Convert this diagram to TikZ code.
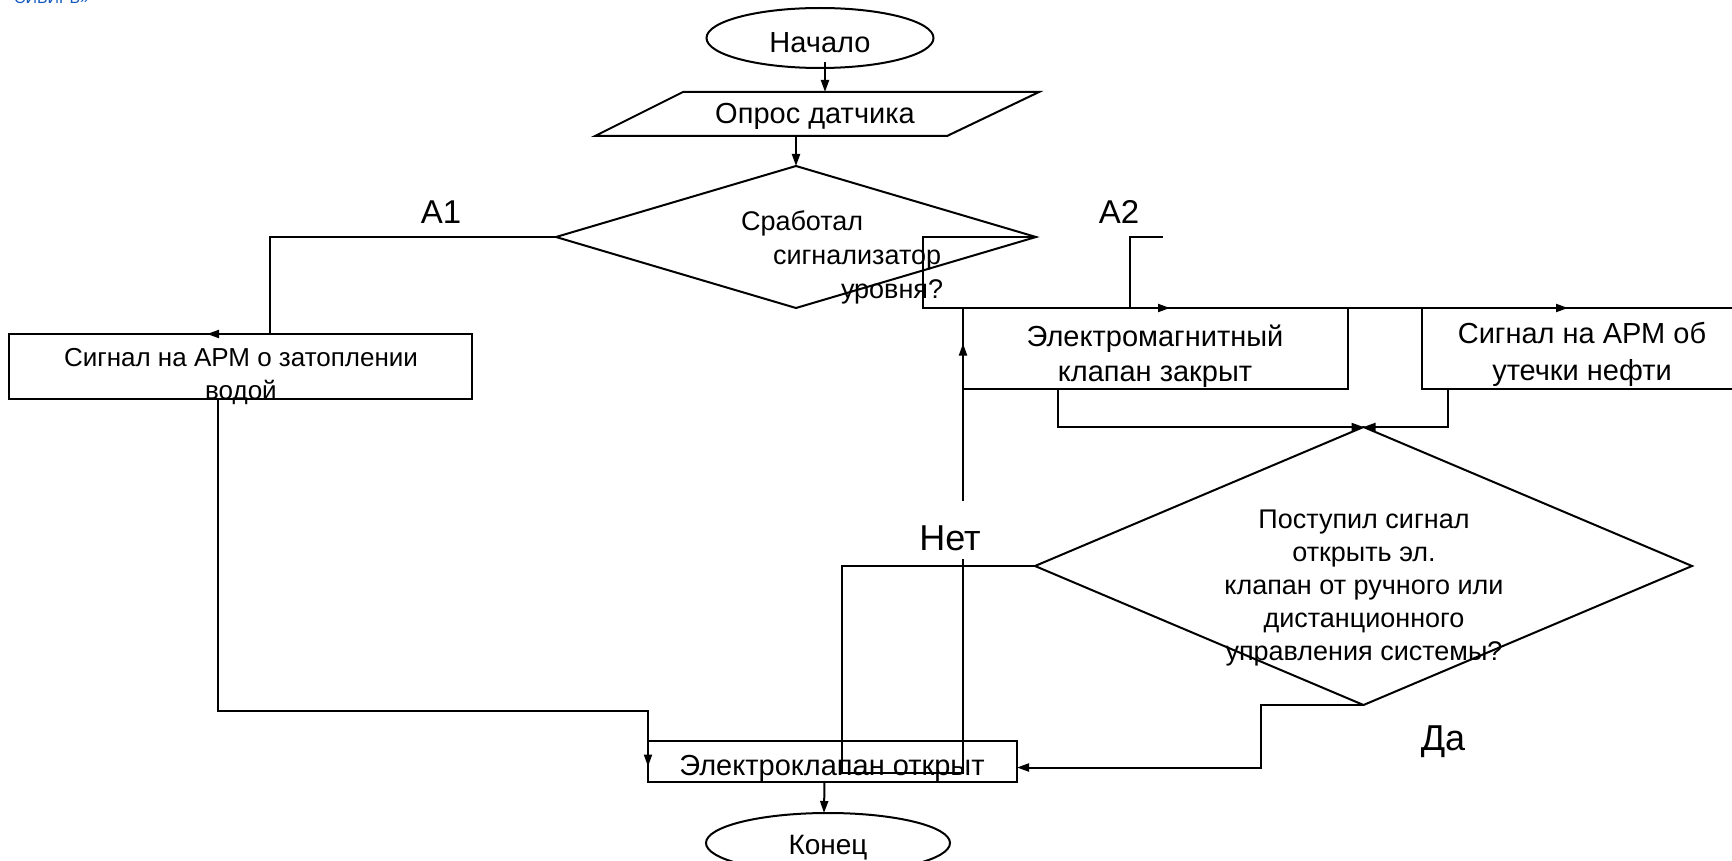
\documentclass[tikz,border=0pt]{standalone}
\usepackage{fontspec}
\setmainfont{Liberation Sans}
\usetikzlibrary{shapes.geometric,arrows.meta,calc}
\definecolor{hdrblue}{RGB}{20,90,190}
\newcommand\myfs[2]{\fontsize{#1pt}{#2pt}\selectfont}
\begin{document}
\begin{tikzpicture}[x=1pt,y=-1pt,line width=2pt,
  arr/.style={-{Triangle[length=12pt,width=8pt]}},
  bx/.style={draw,rectangle,inner sep=0pt,outer sep=0pt},
  term/.style={draw,ellipse,inner sep=0pt,outer sep=0pt},
  dia/.style={draw,diamond,inner sep=0pt,outer sep=0pt},
  txt/.style={inner sep=0pt,align=center},
  lbl/.style={inner sep=0pt,font={\myfs{33}{40}}},
  big/.style={inner sep=0pt,font={\myfs{36}{42}}}]
\useasboundingbox (0,0) rectangle (1732,861);

% header fragment (cut off at the top)
\node[anchor=base west,inner sep=0pt,text=hdrblue,font={\myfs{16}{19}}] (hdr) at (13,4) {СИБИРЬ»};

% start
\node[term,minimum width=227pt,minimum height=60pt] (start) at (820,38) {};
\node[txt,font={\myfs{29}{35}}] (startt) at (820,43) {Начало};

% input parallelogram
\coordinate (pa) at (595,136);
\coordinate (pb) at (683,92);
\coordinate (pc) at (1039,92);
\coordinate (pd) at (947,136);
\draw (pa) -- (pb) -- (pc) -- (pd) -- cycle;
\node[txt,font={\myfs{29}{35}}] (input) at (815,116) {Опрос датчика};
\coordinate (pin) at (796,136);

% decision 1
\node[dia,minimum width=480pt,minimum height=142pt] (dec1) at (796,237) {};
\node[anchor=west,inner sep=0pt,align=left,font={\myfs{27}{34}}] (dec1t) at (740,257)
  {Сработал\\\hspace*{32pt}сигнализатор\\\hspace*{100pt}уровня?};

\node[lbl] (A1) at (441,212) {A1};
\node[lbl] (A2) at (1119,212) {A2};

% left box
\node[bx,minimum width=463pt,minimum height=65pt] (boxA) at (240.5,366.5) {};
\node[txt,font={\myfs{26}{33}}] (boxAt) at (241,377) {Сигнал на АРМ о затоплении\\водой};

% valve closed box
\node[bx,minimum width=385pt,minimum height=81pt] (emv) at (1155.5,348.5) {};
\node[txt,font={\myfs{29}{35}}] (emvt) at (1155,356) {Электромагнитный\\клапан закрыт};

% oil leak signal box
\node[bx,minimum width=320pt,minimum height=81pt] (sig) at (1582,348.5) {};
\node[txt,font={\myfs{29}{37}}] (sigt) at (1582,354) {Сигнал на АРМ об\\утечки нефти};

% decision 2
\node[dia,minimum width=657pt,minimum height=278pt] (dec2) at (1363.5,566) {};
\node[txt,font={\myfs{27}{33}}] (dec2t) at (1364,588)
  {Поступил сигнал\\открыть эл.\\клапан от ручного или\\дистанционного\\управления системы?};

% valve open box
\node[bx,minimum width=369pt,minimum height=41pt] (open) at (832.5,761.5) {};
\node[txt,font={\myfs{29}{35}}] (opent) at (832,768) {Электроклапан открыт};

% end
\node[term,minimum width=244pt,minimum height=60pt] (stop) at (828,843) {};
\node[txt,font={\myfs{28}{34}}] (stopt) at (828,848) {Конец};

% connectors
\draw[arr] ($(start.south)+(5,-6)$) -- ($(start.south)+(5,24)$);
\draw[arr] (pin) -- (dec1.north);
\draw[arr] (dec1.west) -| ($(boxA.north west)+(261,0)$) -- ($(boxA.north west)+(198,0)$);
\draw[arr] ($(boxA.south west)+(209,0)$) |- ($(open.north west)+(0,-30)$) -- ($(open.west)+(0,5)$);

\draw[arr] (dec1.east) -| ($(emv.north west)+(-40,0)$) -- ($(emv.north west)+(207,0)$);
\draw[arr] ($(emv.north west)+(207,0)$) -- ($(sig.north west)+(146,0)$);
\draw ($(sig.north west)+(146,0)$) -- ($(sig.north east)+(12,0)$);

\coordinate (a2) at (1163,237);
\draw (a2) -| ($(emv.north west)+(167,0)$);

\draw[arr] ($(emv.south west)+(95,0)$) |- (dec2.north);
\draw[arr] ($(sig.south west)+(26,0)$) |- (dec2.north);

\draw[arr] (dec2.west) -| ($(open.north west)+(194,32)$) -- ($(open.north west)+(315,32)$) -- ($(emv.west)+(0,-5)$);
\node[anchor=base,fill=white,inner sep=0pt,text height=49pt,text depth=9pt,font={\myfs{36}{42}}] (no) at (950,550) {Нет};

\draw[arr] (dec2.south) -- ++(-103,0) |- ($(open.east)+(0,6)$);
\node[big] (yes) at (1443,742) {Да};

\draw[arr] ($(open.south)+(-8,0)$) -- ($(stop.north)+(-4,0)$);
\end{tikzpicture}
\end{document}
